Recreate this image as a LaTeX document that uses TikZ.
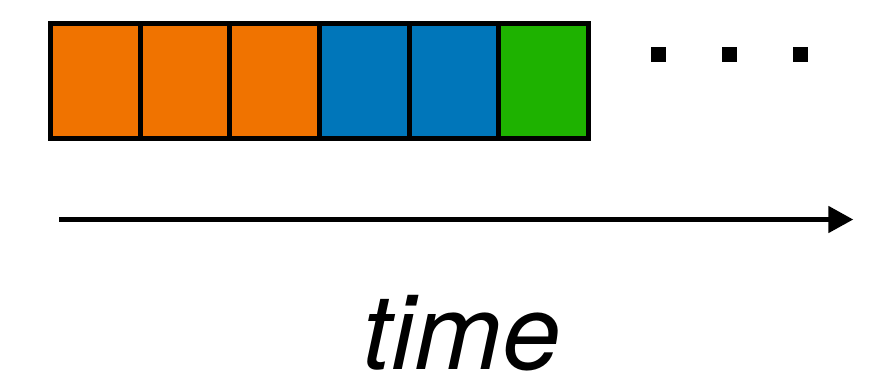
\documentclass[tikz,border=0pt]{standalone}
\usepackage{fontspec}
\setmainfont{TeX Gyre Heros}
\usetikzlibrary{arrows.meta}
\definecolor{cOrange}{RGB}{240,115,0}
\definecolor{cBlue}{RGB}{0,118,186}
\definecolor{cGreen}{RGB}{30,178,0}
\begin{document}
\begin{tikzpicture}[x=1pt,y=-1pt,
  cell/.style={draw=black,line width=5pt,inner sep=0pt,minimum width=89.57pt,minimum height=114.7pt},
  dot/.style={fill=black,inner sep=0pt,minimum size=15pt},
  timearrow/.style={line width=5pt,-{Triangle[length=25pt,width=26pt]}}]
\useasboundingbox (0,0) rectangle (888,373);
\node[cell,fill=cOrange] (b1) at (95.59,80.85) {};
\node[cell,fill=cOrange] (b2) at (185.16,80.85) {};
\node[cell,fill=cOrange] (b3) at (274.73,80.85) {};
\node[cell,fill=cBlue] (b4) at (364.30,80.85) {};
\node[cell,fill=cBlue] (b5) at (453.87,80.85) {};
\node[cell,fill=cGreen] (b6) at (543.44,80.85) {};
\node[dot] (d1) at (658.5,54.5) {};
\node[dot] (d2) at (729.5,54.5) {};
\node[dot] (d3) at (800.5,54.5) {};
\coordinate (tstart) at (59,219.5);
\coordinate (tend) at (853.3,219.5);
\draw[timearrow] (tstart) -- (tend);
\node[anchor=base,inner sep=0pt] (lbl) at (461.5,369.5) {\fontsize{105}{105}\selectfont\itshape time};
\end{tikzpicture}
\end{document}
